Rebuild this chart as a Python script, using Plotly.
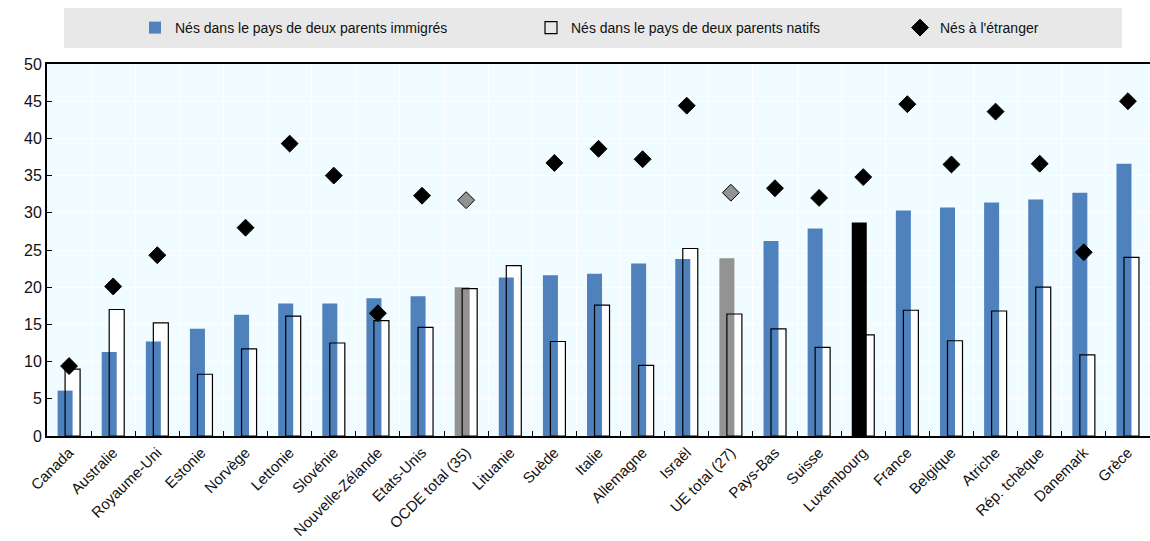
import plotly.graph_objects as go

categories = ["Canada", "Australie", "Royaume-Uni", "Estonie", "Norvège", "Lettonie",
              "Slovénie", "Nouvelle-Zélande", "Etats-Unis", "OCDE total (35)", "Lituanie",
              "Suède", "Italie", "Allemagne", "Israël", "UE total (27)", "Pays-Bas", "Suisse",
              "Luxembourg", "France", "Belgique", "Atriche", "Rép. tchèque", "Danemark", "Grèce"]
immigres = [6.1, 11.3, 12.7, 14.4, 16.3, 17.8, 17.8, 18.5, 18.8, 20.0, 21.3, 21.6, 21.8,
            23.2, 23.8, 23.9, 26.2, 27.9, 28.7, 30.3, 30.7, 31.4, 31.8, 32.7, 36.6]
natifs = [9.0, 17.0, 15.2, 8.3, 11.7, 16.1, 12.5, 15.5, 14.6, 19.8, 22.9, 12.7, 17.6,
          9.5, 25.2, 16.4, 14.4, 11.9, 13.6, 16.9, 12.8, 16.8, 20.0, 10.9, 24.0]
etranger = [9.4, 20.1, 24.3, None, 28.0, 39.3, 35.0, 16.5, 32.3, 31.7, None, 36.7, 38.6,
            37.2, 44.4, 32.7, 33.3, 32.0, 34.8, 44.6, 36.5, 43.6, 36.6, 24.7, 45.0]
y_ticks = [0, 5, 10, 15, 20, 25, 30, 35, 40, 45, 50]

BLUE = "#4F81BD"
GREY = "#939393"
FONT = "Liberation Sans, Arial, sans-serif"

L, R, T, B = 47, 0, 64, 105
PW = 1150 - L - R
PH = 541 - T - B


def px_x(px):
    return (px - L) / PW


def px_y(py):
    return (541 - B - py) / PH


bar_colors = []
dia_colors = []
for c in categories:
    if c.startswith("OCDE") or c.startswith("UE"):
        bar_colors.append(GREY)
        dia_colors.append(GREY)
    elif c == "Luxembourg":
        bar_colors.append("#000000")
        dia_colors.append("#000000")
    else:
        bar_colors.append(BLUE)
        dia_colors.append("#000000")

fig = go.Figure()
# white fill of native bars (behind)
fig.add_trace(go.Bar(x=categories, y=natifs, offset=-0.09, width=0.34,
                     marker=dict(color="white", line=dict(width=0)),
                     showlegend=False, hoverinfo="skip"))
fig.add_trace(go.Bar(x=categories, y=immigres, offset=-0.26, width=0.34,
                     name="Nés dans le pays de deux parents immigrés", legend="legend",
                     marker=dict(color=bar_colors, line=dict(width=0))))
fig.add_trace(go.Bar(x=categories, y=natifs, offset=-0.09, width=0.34,
                     name="Nés dans le pays de deux parents natifs", legend="legend2",
                     marker=dict(color="rgba(255,255,255,0)", line=dict(color="black", width=1.2))))
fig.add_trace(go.Scatter(x=categories, y=etranger, mode="markers",
                         name="Nés à l'étranger", legend="legend3",
                         marker=dict(symbol="diamond", size=13, color=dia_colors,
                                     line=dict(color="black", width=1))))

fig.add_shape(type="rect", xref="paper", yref="paper",
              x0=px_x(64), x1=px_x(1122), y0=px_y(48), y1=px_y(8),
              fillcolor="#E8E8E8", line=dict(width=0), layer="below")

leg_common = dict(orientation="h", yanchor="middle", y=px_y(28), xanchor="left",
                  bgcolor="rgba(0,0,0,0)", font=dict(size=14, family=FONT, color="#111"),
                  itemwidth=30)

fig.update_layout(
    width=1150, height=541,
    barmode="overlay",
    margin=dict(l=L, r=R, t=T, b=B, autoexpand=False),
    paper_bgcolor="white",
    plot_bgcolor="#F0FCFF",
    font=dict(family=FONT, size=14, color="#111"),
    legend=dict(x=px_x(155 - 20), **leg_common),
    legend2=dict(x=px_x(551 - 20), **leg_common),
    legend3=dict(x=px_x(922 - 22), **leg_common),
    showlegend=True,
)
fig.update_xaxes(type="category", tickangle=-45, showline=True, linecolor="black", linewidth=2,
                 mirror=True, ticks="inside", tickson="boundaries", ticklen=5, tickcolor="black",
                 showgrid=True, gridcolor="white", gridwidth=1, automargin=False,
                 tickfont=dict(size=15, family=FONT), range=[-0.5, len(categories) - 0.5])
fig.update_yaxes(range=[0, 50], tickvals=y_ticks, showline=True, linecolor="black", linewidth=2,
                 ticks="inside", ticklen=5, tickcolor="black", showgrid=True, gridcolor="white",
                 gridwidth=1, zeroline=False, automargin=False, tickfont=dict(size=16, family=FONT))

fig.write_html("out.html", config={"displayModeBar": False},
               post_script="document.body.style.margin='0';")
